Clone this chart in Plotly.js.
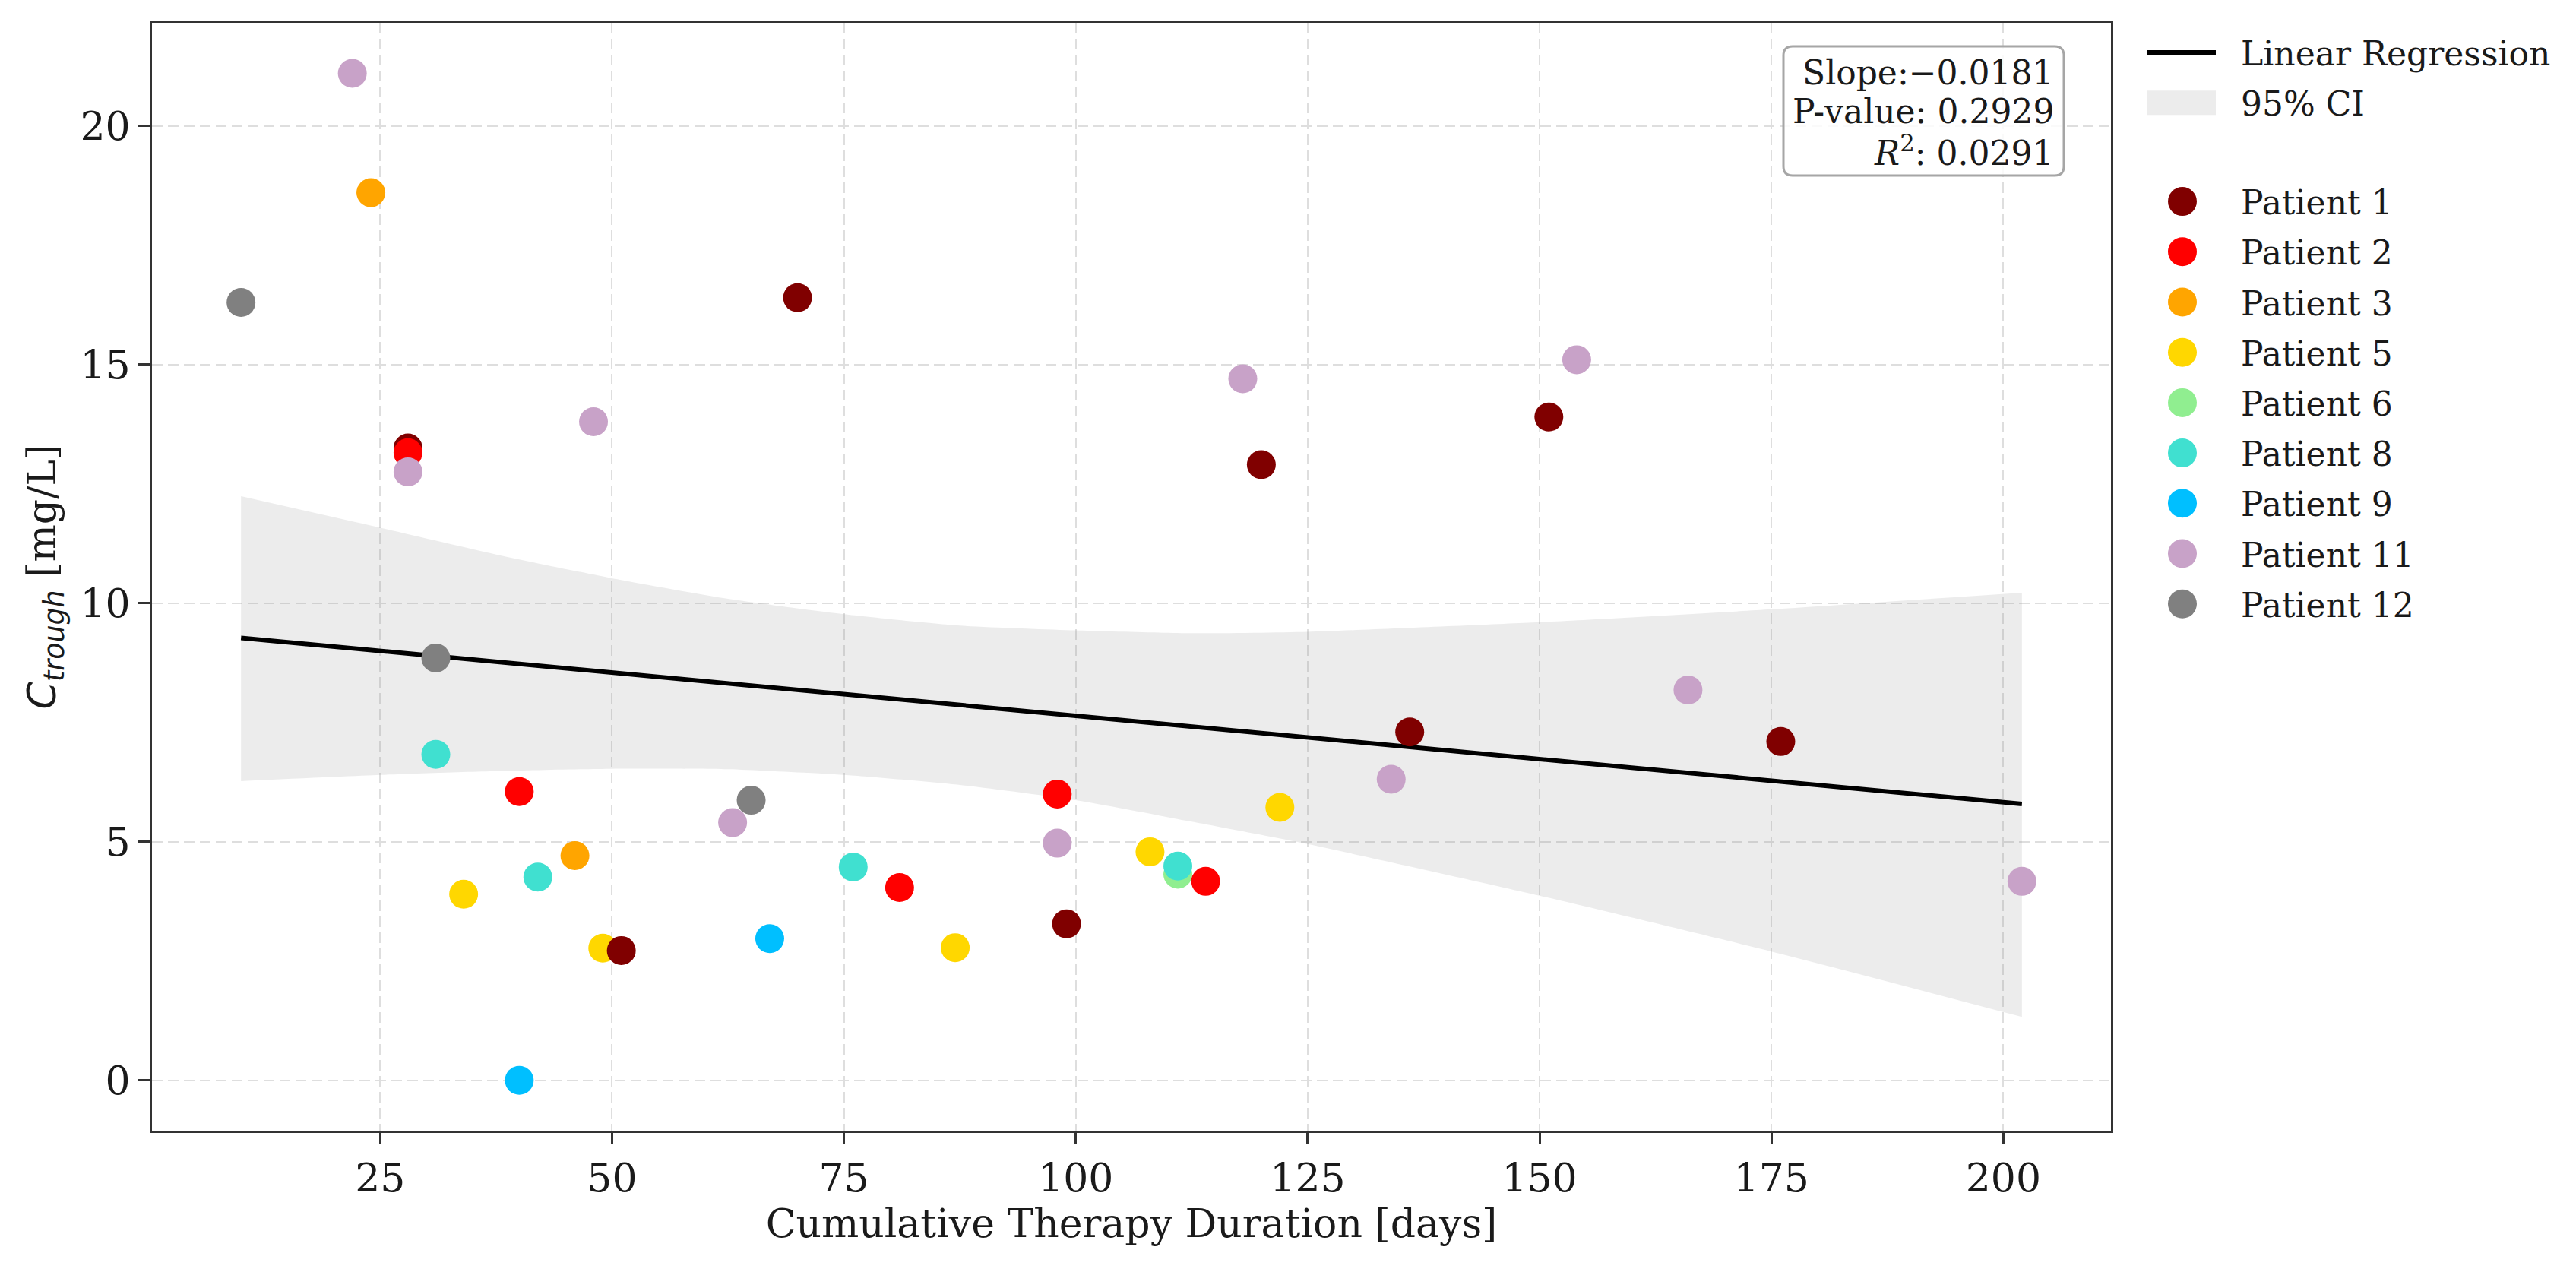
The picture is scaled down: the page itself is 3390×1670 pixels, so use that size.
<!DOCTYPE html>
<html>
<head>
<meta charset="utf-8">
<script src="https://cdn.plot.ly/plotly-3.0.1.min.js"></script>
<style>
  html, body { margin: 0; padding: 0; background: #fff; }
  #chart { width: 3390px; height: 1670px; }
</style>
</head>
<body>
<div id="chart"></div>
<script>
// ── Data ─────────────────────────────────────────────────────────────────

const patientNames  = ['Patient 1', 'Patient 2', 'Patient 3', 'Patient 5', 'Patient 6',
                       'Patient 8', 'Patient 9', 'Patient 11', 'Patient 12'];
const patientColors = ['#800000', '#ff0000', '#ffa500', '#ffd700', '#90ee90',
                       '#40e0d0', '#00bfff', '#c8a2c8', '#808080'];

// cumulative therapy duration [days] / C_trough [mg/L], one pair per patient
const p1Days  = [28, 51, 70, 99, 120, 136, 151, 176];
const p1Conc  = [13.25, 2.72, 16.4, 3.28, 12.9, 7.3, 13.9, 7.1];
const p2Days  = [28, 40, 81, 98, 114];
const p2Conc  = [13.15, 6.05, 4.04, 6.0, 4.17];
const p3Days  = [24, 46];
const p3Conc  = [18.6, 4.71];
const p5Days  = [34, 49, 87, 108, 122];
const p5Conc  = [3.9, 2.77, 2.78, 4.79, 5.72];
const p6Days  = [111];
const p6Conc  = [4.32];
const p8Days  = [31, 42, 76, 111];
const p8Conc  = [6.83, 4.26, 4.47, 4.49];
const p9Days  = [40, 67];
const p9Conc  = [0.0, 2.97];
const p11Days = [22, 28, 48, 63, 98, 118, 134, 154, 166, 202];
const p11Conc = [21.1, 12.75, 13.8, 5.4, 4.97, 14.7, 6.31, 15.1, 8.18, 4.17];
const p12Days = [10, 31, 65];
const p12Conc = [16.3, 8.85, 5.87];

const patientDays = [p1Days, p2Days, p3Days, p5Days, p6Days, p8Days, p9Days, p11Days, p12Days];
const patientConc = [p1Conc, p2Conc, p3Conc, p5Conc, p6Conc, p8Conc, p9Conc, p11Conc, p12Conc];

// regression line end points and the 95% CI band edges
const fitDays  = [10, 202];
const fitConc  = [9.27, 5.79];
const ciDays   = [10, 25, 37.5, 50, 62.5, 75, 87.5, 100, 112.5, 125, 150, 175, 202];
const ciUpper  = [12.24, 11.58, 11.02, 10.52, 10.09, 9.77, 9.53, 9.43, 9.37, 9.40, 9.60, 9.87, 10.22];
const ciLower  = [6.27, 6.40, 6.48, 6.53, 6.52, 6.40, 6.19, 5.87, 5.42, 4.95, 3.87, 2.70, 1.33];

const statLines = ['Slope:\u22120.0181', 'P-value: 0.2929', '<i>R</i><sup>2</sup>: 0.0291'];

const xTicks = [25, 50, 75, 100, 125, 150, 175, 200];
const yTicks = [0, 5, 10, 15, 20];

// ── Styling ──────────────────────────────────────────────────────────────

const FONT   = 'DejaVu Serif, serif';
const INK    = '#1a1a1a';
const SPINE  = '#333333';
const GRID   = '#dedede';
const MARGIN = { l: 200, r: 612, t: 30, b: 182, pad: 0 };
const PW = 3390 - MARGIN.l - MARGIN.r;   // plot area width
const PH = 1670 - MARGIN.t - MARGIN.b;   // plot area height

// page pixel -> paper coords (box + legend placement)
const px = v => (v - MARGIN.l) / PW;
const py = v => (1670 - MARGIN.b - v) / PH;

// draw order puts P1 over P5 but under P2/P11, like the original
const drawOrder = [3, 4, 5, 0, 1, 2, 6, 7, 8];

const traces = [
  {
    x: ciDays, y: ciLower, type: 'scatter', mode: 'lines',
    line: { width: 0, shape: 'spline', smoothing: 0.6 },
    legend: 'legend', legendgroup: 'ci', showlegend: false,
  },
  {
    x: ciDays, y: ciUpper, type: 'scatter', mode: 'lines',
    name: '95% CI', fill: 'tonexty', fillcolor: 'rgba(128,128,128,0.15)',
    line: { width: 0, shape: 'spline', smoothing: 0.6, color: 'rgba(128,128,128,0.15)' },
    legend: 'legend', legendgroup: 'ci', legendrank: 2,
  },
  {
    x: fitDays, y: fitConc, type: 'scatter', mode: 'lines',
    name: 'Linear Regression', line: { color: '#000', width: 6 },
    legend: 'legend', legendgroup: 'fit', legendrank: 1,
  },
];

drawOrder.forEach(i => {
  traces.push({
    x: patientDays[i], y: patientConc[i], type: 'scatter', mode: 'markers',
    name: patientNames[i], legend: 'legend2', legendgroup: patientNames[i], legendrank: i + 1,
    marker: { color: patientColors[i], size: 38, line: { width: 0 } },
  });
});

// rounded stats box (pixel corners of the original)
const bx0 = px(2347), bx1 = px(2716), by0 = py(231), by1 = py(61);
const rx = 12 / PW, ry = 12 / PH;
const boxPath =
  `M ${bx0 + rx},${by1} L ${bx1 - rx},${by1} Q ${bx1},${by1} ${bx1},${by1 - ry} ` +
  `L ${bx1},${by0 + ry} Q ${bx1},${by0} ${bx1 - rx},${by0} ` +
  `L ${bx0 + rx},${by0} Q ${bx0},${by0} ${bx0},${by0 + ry} ` +
  `L ${bx0},${by1 - ry} Q ${bx0},${by1} ${bx0 + rx},${by1} Z`;

const statY = [95, 146, 198];

const axisCommon = {
  showline: true, linecolor: SPINE, linewidth: 3, mirror: true,
  ticks: 'outside', ticklen: 15, tickwidth: 3, tickcolor: SPINE,
  tickfont: { family: FONT, size: 52, color: INK },
  showgrid: true, gridcolor: GRID, gridwidth: 2, griddash: '14px,7px',
  zeroline: false, automargin: false,
};

const legendCommon = {
  x: px(2839), xanchor: 'left', yanchor: 'top',
  bgcolor: 'rgba(0,0,0,0)', borderwidth: 0,
  font: { family: FONT, size: 44, color: INK },
  itemwidth: 100, traceorder: 'grouped', tracegroupgap: 6,
};

const layout = {
  width: 3390, height: 1670,
  paper_bgcolor: '#fff', plot_bgcolor: '#fff',
  font: { family: FONT, size: 48, color: INK },
  margin: MARGIN,
  xaxis: {
    ...axisCommon,
    range: [0.4, 211.6], tickvals: xTicks,
    title: { text: 'Cumulative Therapy Duration [days]', font: { family: FONT, size: 52, color: INK }, standoff: 12 },
  },
  yaxis: {
    ...axisCommon,
    range: [-1.055, 22.16], tickvals: yTicks,
    title: {
      text: '<span style="font-family:DejaVu Sans"><i>C</i><sub><i>trough</i></sub></span> [mg/L]',
      font: { family: FONT, size: 52, color: INK }, standoff: 16,
    },
  },
  legend:  { ...legendCommon, y: py(34) },
  legend2: { ...legendCommon, y: py(230) },
  shapes: [{
    type: 'path', xref: 'paper', yref: 'paper', path: boxPath, layer: 'above',
    fillcolor: 'rgba(255,255,255,0.85)', line: { color: '#a6a6a6', width: 3 },
  }],
  annotations: statLines.map((t, k) => ({
    xref: 'paper', yref: 'paper', x: px(2705), y: py(statY[k]),
    xanchor: 'right', yanchor: 'middle', showarrow: false, align: 'right',
    text: t, font: { family: FONT, size: 44, color: INK },
  })),
  showlegend: true,
  hovermode: false,
};

// Plotly caps legend glyphs at 16 px; redraw them at the original's size,
// placed relative to each entry's text like matplotlib does.
// (entry text class is '<legendId>text', i.e. legendtext / legend2text)
function restyleLegend(gd) {
  const DOT_R = 19, DOT_GAP = 77, LINE_GAP = 124, LINE_W = 91, PATCH_H = 32;
  gd.querySelectorAll('.scrollbox').forEach(el => el.removeAttribute('clip-path'));
  gd.querySelectorAll('text.legendtext, text.legend2text').forEach(text => {
    const item = text.parentNode;
    const textLeft = text.getBoundingClientRect().left;

    item.querySelectorAll('path.scatterpts').forEach(p => {
      const e = p.parentNode.getScreenCTM().e;
      p.setAttribute('d', `M${DOT_R},0A${DOT_R},${DOT_R} 0 1,1 0,-${DOT_R}A${DOT_R},${DOT_R} 0 0,1 ${DOT_R},0Z`);
      p.setAttribute('transform', `translate(${textLeft - DOT_GAP - e},0)`);
    });
    item.querySelectorAll('.legendlines path').forEach(p => {
      const e = p.getScreenCTM().e;
      p.setAttribute('d', `M${textLeft - LINE_GAP - e},0h${LINE_W}`);
    });
    item.querySelectorAll('.legendfill path').forEach(p => {
      const e = p.getScreenCTM().e;
      p.setAttribute('d', `M${textLeft - LINE_GAP - e},-${PATCH_H / 2}h${LINE_W}v${PATCH_H}h-${LINE_W}Z`);
    });
  });
}

Plotly.newPlot('chart', traces, layout, { displayModeBar: false, staticPlot: true })
  .then(gd => {
    restyleLegend(gd);
    gd.on('plotly_afterplot', () => restyleLegend(gd));
  });
</script>
</body>
</html>
